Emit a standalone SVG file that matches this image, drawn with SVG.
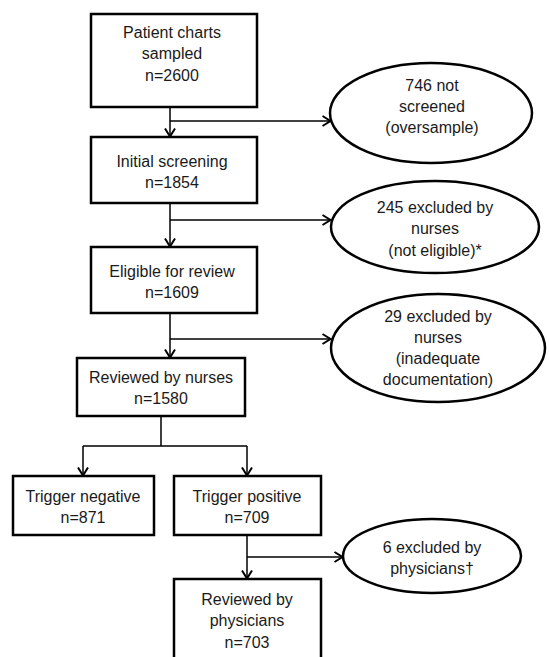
<svg xmlns="http://www.w3.org/2000/svg" width="550" height="657" viewBox="0 0 550 657">
<style>
.box{fill:#fff;stroke:#000;stroke-width:2.5}
.ell{fill:#fff;stroke:#000;stroke-width:2.5}
.t{font-family:"Liberation Sans",Arial,sans-serif;font-size:16px;fill:#1a1a1a;text-anchor:middle}
.c{fill:none;stroke:#000;stroke-width:1.5}
</style>
<defs>
<marker id="ah" viewBox="0 0 10 12" refX="9.5" refY="6" markerWidth="10" markerHeight="12" markerUnits="userSpaceOnUse" orient="auto">
<path d="M1,1 L9,6 L1,11" fill="none" stroke="#000" stroke-width="2"/>
</marker>
</defs>
<rect width="550" height="657" fill="#fff"/>
<g id="connectors">
<path class="c" d="M170,107 V137" marker-end="url(#ah)"/>
<path class="c" d="M170,121 H331" marker-end="url(#ah)"/>
<path class="c" d="M170,203 V247" marker-end="url(#ah)"/>
<path class="c" d="M170,220 H331" marker-end="url(#ah)"/>
<path class="c" d="M170,313 V358" marker-end="url(#ah)"/>
<path class="c" d="M170,339 H331" marker-end="url(#ah)"/>
<path class="c" d="M161,416 V446 M83,446 H247"/>
<path class="c" d="M83,446 V476" marker-end="url(#ah)"/>
<path class="c" d="M247,446 V476" marker-end="url(#ah)"/>
<path class="c" d="M247,535 V579" marker-end="url(#ah)"/>
<path class="c" d="M247,557 H343" marker-end="url(#ah)"/>
</g>
<g id="n1"><rect class="box" x="91" y="14" width="166" height="93"/>
<text class="t" x="172" y="38">Patient charts</text><text class="t" x="172" y="59">sampled</text><text class="t" x="172" y="81">n=2600</text></g>
<g id="n2"><rect class="box" x="91" y="137" width="166" height="66"/>
<text class="t" x="172" y="167">Initial screening</text><text class="t" x="172" y="188">n=1854</text></g>
<g id="n3"><rect class="box" x="91" y="247" width="166" height="66"/>
<text class="t" x="172" y="277">Eligible for review</text><text class="t" x="172" y="298">n=1609</text></g>
<g id="n4"><rect class="box" x="77" y="358" width="168" height="58"/>
<text class="t" x="161" y="383">Reviewed by nurses</text><text class="t" x="161" y="404">n=1580</text></g>
<g id="n5"><rect class="box" x="13" y="476" width="141" height="59"/>
<text class="t" x="83" y="502">Trigger negative</text><text class="t" x="83" y="523">n=871</text></g>
<g id="n6"><rect class="box" x="174" y="476" width="147" height="59"/>
<text class="t" x="247" y="502">Trigger positive</text><text class="t" x="247" y="523">n=709</text></g>
<g id="n7"><rect class="box" x="174" y="579" width="147" height="90"/>
<text class="t" x="247" y="605">Reviewed by</text><text class="t" x="247" y="626">physicians</text><text class="t" x="247" y="648">n=703</text></g>
<g id="e1"><ellipse class="ell" cx="431" cy="113" rx="101" ry="50"/>
<text class="t" x="432" y="91">746 not</text><text class="t" x="432" y="112">screened</text><text class="t" x="432" y="133">(oversample)</text></g>
<g id="e2"><ellipse class="ell" cx="435" cy="227" rx="104" ry="46"/>
<text class="t" x="435" y="213">245 excluded by</text><text class="t" x="435" y="234">nurses</text><text class="t" x="435" y="256">(not eligible)*</text></g>
<g id="e3"><ellipse class="ell" cx="438" cy="348" rx="107" ry="54"/>
<text class="t" x="438" y="322">29 excluded by</text><text class="t" x="438" y="343">nurses</text><text class="t" x="438" y="364">(inadequate</text><text class="t" x="438" y="385">documentation)</text></g>
<g id="e4"><ellipse class="ell" cx="432" cy="556" rx="89" ry="37"/>
<text class="t" x="432" y="553">6 excluded by</text><text class="t" x="432" y="574">physicians†</text></g>
</svg>
